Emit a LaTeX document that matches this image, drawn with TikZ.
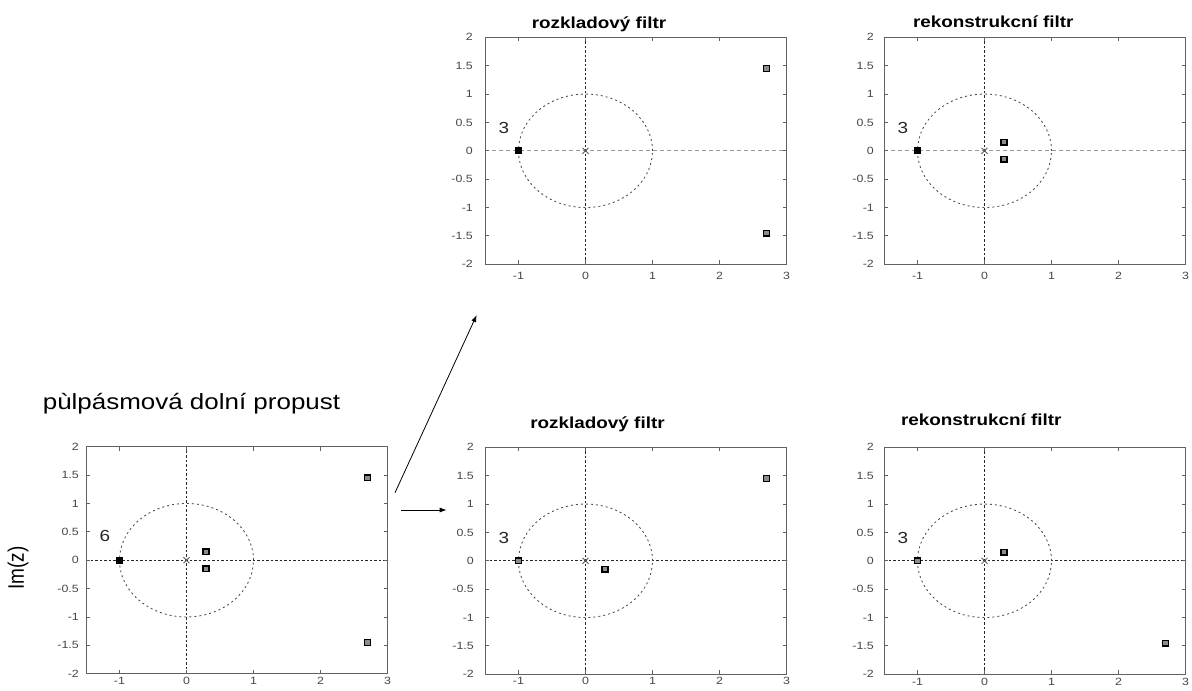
\documentclass[tikz,border=0pt]{standalone}
\usepackage{fontspec}
\setmainfont{Liberation Sans}
\usetikzlibrary{arrows.meta}
\newcommand{\sx}[1]{\scalebox{1.18}[1]{#1}}
\tikzset{
  boxst/.style={draw=black!62, line width=1pt},
  tickst/.style={draw=black!62, line width=0.9pt},
  ticklab/.style={inner sep=0pt, text=black!72, font=\fontsize{10.5}{12}\selectfont},
  vax/.style={draw=black!85, line width=0.9pt, dash pattern=on 2.5pt off 2pt},
  hax/.style={draw=black!85, line width=0.9pt, dash pattern=on 2.5pt off 2pt},
  hgray/.style={draw=black!40, line width=1.1pt, dash pattern=on 4pt off 3pt},
  unitc/.style={draw=black!70, line width=0.85pt, dash pattern=on 2pt off 3pt},
  polest/.style={draw=black!65, line width=0.8pt},
  zero/.style={rectangle, draw=black, fill=black!45, line width=1.4pt, minimum width=6pt, minimum height=5.5pt, inner sep=0pt},
  zerof/.style={zero, fill=black},
  mult/.style={inner sep=0pt, text=black!85, font=\fontsize{16}{18}\selectfont},
  ttl/.style={anchor=base, inner sep=0pt, font=\bfseries\fontsize{16}{18}\selectfont},
  arr/.style={-{Latex[length=7pt,width=5pt]}, line width=0.8pt, black}
}
% #1 left, #2 top, #3 horizontal axis style, #4 x-label gap, #5 y-label gap, #6 name prefix, #7 markers
\newcommand{\zpl}[7]{%
\begin{scope}[shift={({#1pt+100.5pt},{-#2pt-113.5pt})}, x=67pt, y=56.75pt]
  \draw[vax] (0,-2) -- (0,2);
  \draw[#3] (-1.5,0) -- (3,0);
  \draw[unitc] (0,0) circle[x radius=1, y radius=1];
  \draw[polest] (0,0) ++(-3pt,-3pt) -- ++(6pt,6pt) (0,0) ++(-3pt,3pt) -- ++(6pt,-6pt);
  \draw[boxst] (-1.5,-2) rectangle (3,2);
  \foreach \t [count=\i] in {-1,0,1,2,3}{
    \draw[tickst] (\t,-2) -- ++(0,4pt);
    \draw[tickst] (\t,2) -- ++(0,-4pt);
    \node[ticklab, anchor=north, yshift=-#4pt] (#6x\i) at (\t,-2) {\sx{\t}};
  }
  \foreach \t [count=\i] in {-2,-1.5,-1,-0.5,0,0.5,1,1.5,2}{
    \draw[tickst] (-1.5,\t) -- ++(4pt,0);
    \draw[tickst] (3,\t) -- ++(-4pt,0);
    \node[ticklab, anchor=east, xshift=-#5pt] (#6y\i) at (-1.5,\t) {\sx{\t}};
  }
  #7
\end{scope}}

\begin{document}
\begin{tikzpicture}[x=1pt,y=-1pt]
\useasboundingbox (0,0) rectangle (1192,691);
\fill[white] (0,0) rectangle (1192,691);

% bottom-left: half-band low-pass
\zpl{86}{446.7}{hax}{3}{7}{A}{%
  \node[zerof] (Az1) at (-1,0) {};
  \node[zero] (Az2) at (0.29,0.15) {};
  \node[zero] (Az3) at (0.29,-0.15) {};
  \node[zero] (Az4) at (2.7,1.45) {};
  \node[zero] (Az5) at (2.7,-1.45) {};
  \node[mult] (Am) at (-1.22,0.42) {\sx{6}};
}
% top-middle
\zpl{485}{37.3}{hgray}{8}{12}{B}{%
  \node[zerof] (Bz1) at (-1,0) {};
  \node[zero] (Bz2) at (2.7,1.45) {};
  \node[zero] (Bz3) at (2.7,-1.45) {};
  \node[mult] (Bm) at (-1.22,0.4) {\sx{3}};
}
% top-right
\zpl{884}{37.3}{hgray}{8}{10}{C}{%
  \node[zerof] (Cz1) at (-1,0) {};
  \node[zero] (Cz2) at (0.29,0.15) {};
  \node[zero] (Cz3) at (0.29,-0.15) {};
  \node[mult] (Cm) at (-1.22,0.4) {\sx{3}};
}
% bottom-middle
\zpl{485}{447.3}{hax}{3}{11}{D}{%
  \node[zero] (Dz1) at (-1,0) {};
  \node[zero] (Dz2) at (0.29,-0.15) {};
  \node[zero] (Dz3) at (2.7,1.45) {};
  \node[mult] (Dm) at (-1.22,0.4) {\sx{3}};
}
% bottom-right
\zpl{884}{447.3}{hax}{3.5}{10}{E}{%
  \node[zero] (Ez1) at (-1,0) {};
  \node[zero] (Ez2) at (0.29,0.15) {};
  \node[zero] (Ez3) at (2.7,-1.45) {};
  \node[mult] (Em) at (-1.22,0.4) {\sx{3}};
}

% titles
\node[anchor=base, inner sep=0pt, font=\fontsize{22}{26}\selectfont] (tA) at (191.5,409) {\sx{pùlpásmová dolní propust}};
\node[ttl] (tB) at (599,28) {\sx{rozkladový filtr}};
\node[ttl] (tC) at (993.3,27.3) {\sx{rekonstrukcní filtr}};
\node[ttl] (tD) at (597.5,428.3) {\sx{rozkladový filtr}};
\node[ttl] (tE) at (981.3,425) {\sx{rekonstrukcní filtr}};
\node[inner sep=0pt, rotate=90, font=\fontsize{19}{22}\selectfont] (ylab) at (18,568) {\scalebox{1}[1.18]{Im(z)}};

% arrows
\coordinate (a1s) at (395,492.7);
\coordinate (a1e) at (476.7,315);
\coordinate (a2s) at (401,510);
\coordinate (a2e) at (446.7,510);
\draw[arr] (a1s) -- (a1e);
\draw[arr] (a2s) -- (a2e);
\end{tikzpicture}
\end{document}
